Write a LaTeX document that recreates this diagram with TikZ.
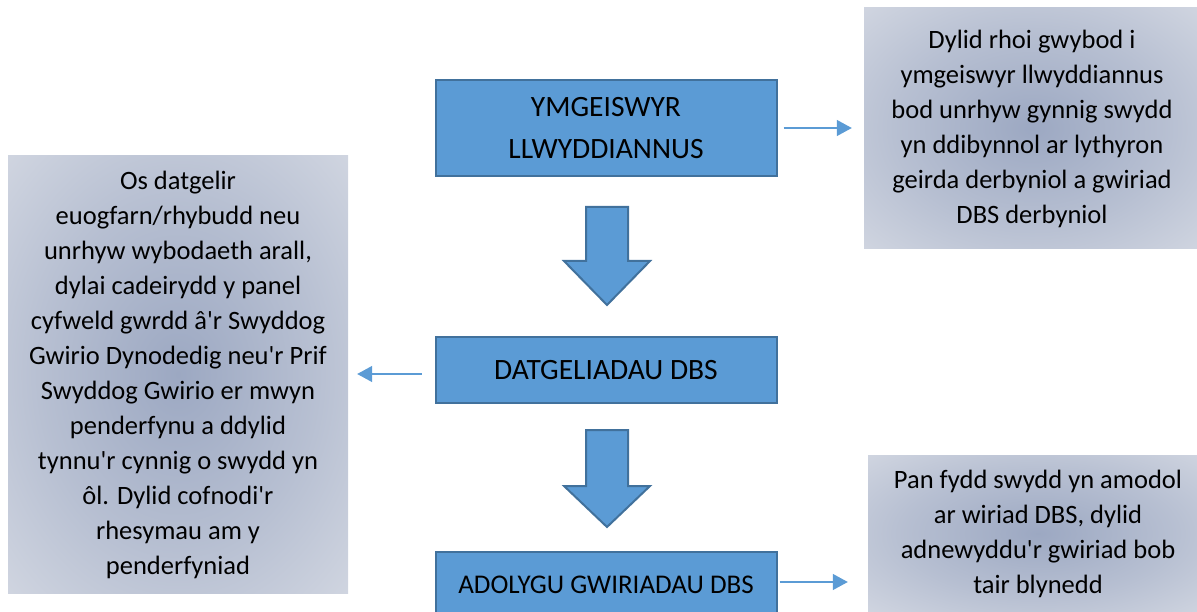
\documentclass[tikz,border=0pt]{standalone}
\usepackage{fontspec}
\setmainfont{Carlito}
\usetikzlibrary{positioning,arrows.meta}

\definecolor{boxblue}{HTML}{5B9BD5}
\definecolor{boxedge}{HTML}{41719C}
\definecolor{notein}{HTML}{9CA8C2}
\definecolor{noteout}{HTML}{DFE2E9}
\pgfdeclareradialshading{noteglow}{\pgfpoint{0bp}{0bp}}{color(0bp)=(notein); color(20bp)=(notein!60!noteout); color(45bp)=(noteout); color(50bp)=(noteout)}

\tikzset{
  stagebox/.style={draw=boxedge, line width=2pt, fill=boxblue, minimum width=341pt, align=center, inner sep=0pt, font=\fontsize{29.5}{42}\selectfont},
  notebox/.style={shading=noteglow, align=center, inner sep=0pt, font=\fontsize{26.5}{35}\selectfont},
  sidearrow/.style={-{Triangle[length=15pt,width=16pt]}, draw=boxblue, line width=1.3pt},
  downarrow/.style={draw=boxedge, line width=2pt, fill=boxblue, line join=miter}
}

\begin{document}
\begin{tikzpicture}[x=1pt,y=-1pt]
    \useasboundingbox (0,0) rectangle (1197,612);
    \clip (0,0) rectangle (1197,612);

    % main steps
    \node[stagebox, minimum height=96pt] (yml) at (606,128) {YMGEISWYR\\LLWYDDIANNUS};
    \node[stagebox, minimum height=66pt] (datg) at (606,370) {DATGELIADAU DBS};
    \node[stagebox, minimum height=66pt, font=\fontsize{27}{42}\selectfont] (adol) at (606,585) {ADOLYGU GWIRIADAU DBS};

    % notes
    \node[notebox, minimum width=336pt, minimum height=241pt] (note1) at (1032,128.5) {Dylid rhoi gwybod i\\ymgeiswyr llwyddiannus\\bod unrhyw gynnig swydd\\yn ddibynnol ar lythyron\\geirda derbyniol a gwiriad\\DBS derbyniol};
    \node[notebox, minimum width=340pt, minimum height=437pt] (note2) at (178,374.5) {Os datgelir\\euogfarn/rhybudd neu\\unrhyw wybodaeth arall,\\dylai cadeirydd y panel\\cyfweld gwrdd â\textquotesingle r Swyddog\\Gwirio Dynodedig neu\textquotesingle r Prif\\Swyddog Gwirio er mwyn\\penderfynu a ddylid\\tynnu\textquotesingle r cynnig o swydd yn\\ôl. Dylid cofnodi\textquotesingle r\\rhesymau am y\\penderfyniad};
    \node[notebox, minimum width=340pt, minimum height=157pt] (note3) at (1038,533.5) {Pan fydd swydd yn amodol\\ar wiriad DBS, dylid\\adnewyddu\textquotesingle r gwiriad bob\\tair blynedd};

    % block arrows between the steps
    \draw[downarrow] (586,207) -- (628,207) -- (628,261) -- (650,261) -- (607,305) -- (564,261) -- (586,261) -- cycle;
    \draw[downarrow] (586,430) -- (628,430) -- (628,486) -- (650,486) -- (607,527) -- (564,486) -- (586,486) -- cycle;

    % side arrows to the notes
    \draw[sidearrow, shorten <=6pt, shorten >=12pt] (yml.east) -- (yml.east -| note1.west);
    \draw[sidearrow, shorten <=13pt, shorten >=9pt] ([yshift=-4pt]datg.west) -- ([yshift=-4pt]datg.west -| note2.east);
    \draw[sidearrow, shorten <=2pt, shorten >=20pt] ([yshift=3pt]adol.east) -- ([yshift=3pt]adol.east -| note3.west);
\end{tikzpicture}
\end{document}
